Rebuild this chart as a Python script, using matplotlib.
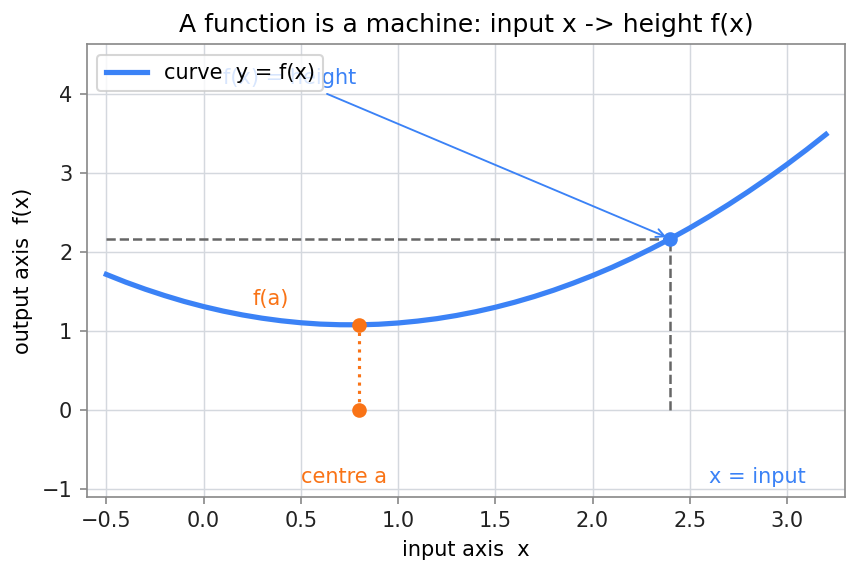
import numpy as np
import matplotlib
matplotlib.use("Agg")
import matplotlib.pyplot as plt

# values
x_vals = [-0.5, -0.4, -0.3, -0.2, -0.1, 0.0, 0.1, 0.2, 0.3, 0.4, 0.5, 0.6, 0.7,
          0.8, 0.9, 1.0, 1.1, 1.2, 1.3, 1.4, 1.5, 1.6, 1.7, 1.8, 1.9, 2.0, 2.1,
          2.2, 2.3, 2.4, 2.5, 2.6, 2.7, 2.8, 2.9, 3.0, 3.1, 3.2]
y_vals = [1.715, 1.617, 1.528, 1.447, 1.373, 1.308, 1.251, 1.202, 1.161, 1.128,
          1.103, 1.086, 1.078, 1.077, 1.084, 1.100, 1.124, 1.155, 1.195, 1.243,
          1.299, 1.363, 1.435, 1.515, 1.604, 1.700, 1.804, 1.917, 2.038, 2.166,
          2.303, 2.448, 2.601, 2.762, 2.931, 3.108, 3.293, 3.487]
centre_a = 0.8
f_a = 1.077
x_in = 2.4
f_in = 2.166

blue = "#3b82f6"
orange = "#f97316"
gray = "#666666"

plt.rcParams['font.family'] = ['DejaVu Sans']
plt.rcParams['axes.edgecolor'] = '#888888'
plt.rcParams['xtick.color'] = '#888888'
plt.rcParams['ytick.color'] = '#888888'
plt.rcParams['xtick.labelcolor'] = '#222222'
plt.rcParams['ytick.labelcolor'] = '#222222'

fig, ax = plt.subplots(figsize=(860/150, 573/150), dpi=150)
fig.subplots_adjust(left=0.101, right=0.983, bottom=0.133, top=0.923)

ax.grid(True, color='#d4d8de', linewidth=0.7)
ax.set_axisbelow(True)

ax.plot(x_vals, y_vals, color=blue, lw=2.5, label='curve  y = f(x)', zorder=3)

# centre a and its height
ax.plot([centre_a, centre_a], [0, f_a], color=orange, ls=':', lw=1.5, zorder=3)
ax.plot([centre_a, centre_a], [0, f_a], 'o', color=orange, ms=6, zorder=4)

# input x -> output f(x)
ax.plot([x_vals[0], x_in], [f_in, f_in], color=gray, ls='--', lw=1.2, zorder=2)
ax.plot([x_in, x_in], [0, f_in], color=gray, ls='--', lw=1.2, zorder=2)
ax.plot([x_in], [f_in], 'o', color=blue, ms=6, zorder=4)

ax.annotate('f(x) = height', xy=(x_in, f_in), xytext=(0.1, 4.2),
            color=blue, fontsize=10, va='center',
            arrowprops=dict(arrowstyle='->', color=blue, lw=0.9))
ax.text(0.25, 1.4, 'f(a)', color=orange, fontsize=10, va='center')
ax.text(0.5, -0.85, 'centre a', color=orange, fontsize=10, va='center')
ax.text(2.6, -0.85, 'x = input', color=blue, fontsize=10, va='center')

ax.set_xlim(-0.6, 3.3)
ax.set_ylim(-1.1, 4.63)
ax.set_xticks(np.arange(-0.5, 3.01, 0.5))
ax.set_yticks(np.arange(-1, 5, 1))
ax.set_xlabel('input axis  x')
ax.set_ylabel('output axis  f(x)')
ax.set_title('A function is a machine: input x -> height f(x)', fontsize=12)
ax.legend(loc='upper left')

fig.savefig('out.png', dpi=150)
